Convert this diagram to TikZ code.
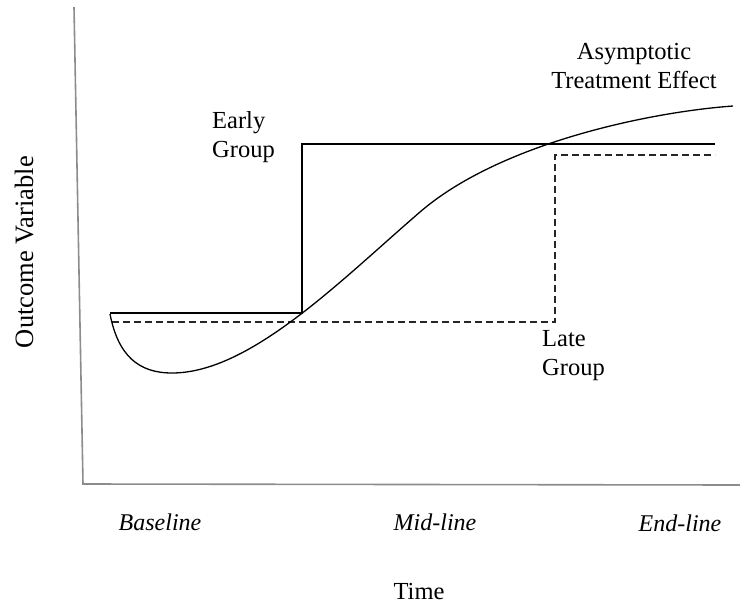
\documentclass[tikz,border=0pt]{standalone}
\usepackage{fontspec}
\setmainfont{Liberation Serif}
\begin{document}
\begin{tikzpicture}[x=1pt,y=-1pt,
  axisline/.style={draw=black!45,line width=1.6pt},
  earlyline/.style={draw=black,line width=1.3pt},
  lateline/.style={draw=black!85,line width=1.3pt,dash pattern=on 7pt off 4pt},
  curveline/.style={draw=black,line width=1.3pt},
  lbl/.style={font=\fontsize{24.5}{29}\selectfont,inner sep=0pt,align=left},
  ilbl/.style={font=\fontsize{24}{28}\selectfont\itshape,inner sep=0pt}]
\useasboundingbox (0,0) rectangle (740,606);
% axes
\coordinate (ytop) at (74,7);
\coordinate (origin) at (83,484);
\coordinate (xend) at (740,485);
\draw[axisline] (ytop) -- (origin) -- (xend);
% early group
\coordinate (e0) at (110,313);
\coordinate (e1) at (302,313);
\coordinate (e2) at (302,144);
\coordinate (e3) at (715,144);
\draw[earlyline] (e0) -- (e1) -- (e2) -- (e3);
% late group
\coordinate (l0) at (112,322);
\coordinate (l1) at (555,322);
\coordinate (l2) at (555,155);
\coordinate (l3) at (715,155);
\draw[lateline] (l0) -- (l1) -- (l2) -- (l3);
% curve
\coordinate (c0) at (110,314);
\coordinate (cmin) at (172,373);
\coordinate (cinf) at (420,212);
\coordinate (cend) at (733,106);
\draw[curveline] (c0) .. controls (118,355) and (138,373) .. (cmin)
  .. controls (250,373) and (340,281) .. (cinf)
  .. controls (500,143) and (650,112) .. (cend);
% labels
\node[lbl,anchor=base west] (early) at (212,157) {Early\\Group};
\node[lbl,anchor=base,align=center] (asym) at (634,88) {Asymptotic\\Treatment Effect};
\node[lbl,anchor=base west] (late) at (542,375) {Late\\Group};
\node[ilbl,anchor=base] (base) at (160,530) {Baseline};
\node[ilbl,anchor=base] (mid) at (435,530) {Mid-line};
\node[ilbl,anchor=base] (endl) at (680,531) {End-line};
\node[lbl,anchor=base] (time) at (419,599) {Time};
\node[font=\fontsize{26.5}{30}\selectfont,inner sep=0pt,rotate=90,anchor=base] (outcome) at (33,252) {Outcome Variable};
\end{tikzpicture}
\end{document}
